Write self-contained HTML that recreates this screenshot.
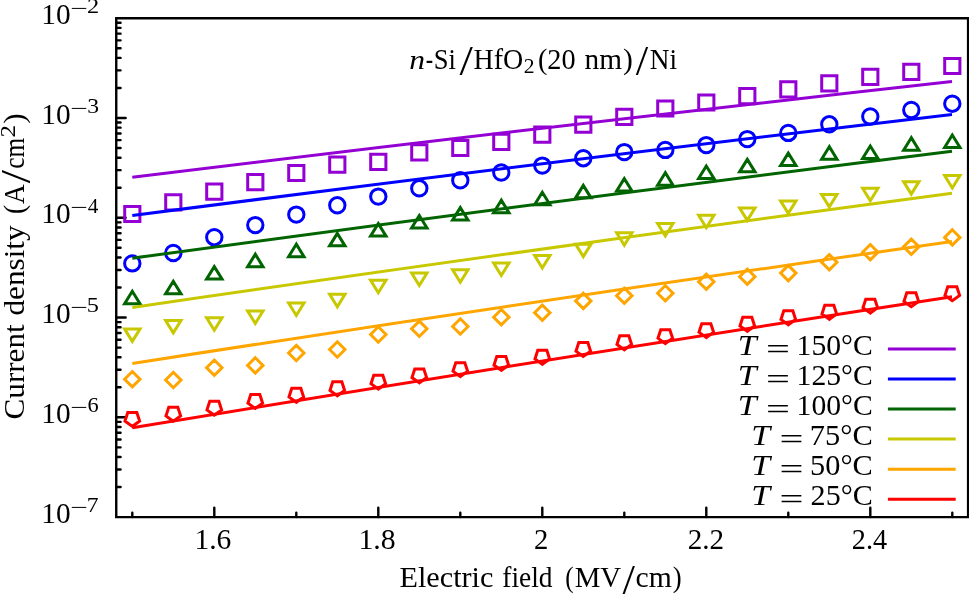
<!DOCTYPE html>
<html lang="en"><head><meta charset="utf-8"><title>Current density vs electric field</title>
<style>html,body{margin:0;padding:0;background:#fff}svg{display:block}</style></head>
<body>
<svg width="969" height="595" viewBox="0 0 969 595">
<rect x="0" y="0" width="969" height="595" fill="#ffffff"/>
<path d="M116.25 87.94h4.3 M116.25 70.37h4.3 M116.25 57.91h4.3 M116.25 48.24h4.3 M116.25 40.34h4.3 M116.25 33.66h4.3 M116.25 27.87h4.3 M116.25 22.77h4.3 M116.25 117.98h9.4 M116.25 187.72h4.3 M116.25 170.15h4.3 M116.25 157.69h4.3 M116.25 148.02h4.3 M116.25 140.12h4.3 M116.25 133.44h4.3 M116.25 127.65h4.3 M116.25 122.55h4.3 M116.25 217.76h9.4 M116.25 287.50h4.3 M116.25 269.93h4.3 M116.25 257.47h4.3 M116.25 247.80h4.3 M116.25 239.90h4.3 M116.25 233.22h4.3 M116.25 227.43h4.3 M116.25 222.33h4.3 M116.25 317.54h9.4 M116.25 387.28h4.3 M116.25 369.71h4.3 M116.25 357.25h4.3 M116.25 347.58h4.3 M116.25 339.68h4.3 M116.25 333.00h4.3 M116.25 327.21h4.3 M116.25 322.11h4.3 M116.25 417.32h9.4 M116.25 487.06h4.3 M116.25 469.49h4.3 M116.25 457.03h4.3 M116.25 447.36h4.3 M116.25 439.46h4.3 M116.25 432.78h4.3 M116.25 426.99h4.3 M116.25 421.89h4.3 M132.30 517.10v-4.3 M214.30 517.10v-9.4 M296.30 517.10v-4.3 M378.30 517.10v-9.4 M460.30 517.10v-4.3 M542.30 517.10v-9.4 M624.30 517.10v-4.3 M706.30 517.10v-9.4 M788.30 517.10v-4.3 M870.30 517.10v-9.4 M952.30 517.10v-4.3" stroke="#000" stroke-width="2.4" stroke-linecap="round" fill="none"/>
<path d="M124.7 206.4h15.2v15.2h-15.2z M165.7 194.7h15.2v15.2h-15.2z M206.7 184.1h15.2v15.2h-15.2z M247.7 174.5h15.2v15.2h-15.2z M288.7 165.4h15.2v15.2h-15.2z M329.7 157.0h15.2v15.2h-15.2z M370.7 154.2h15.2v15.2h-15.2z M411.7 144.7h15.2v15.2h-15.2z M452.7 140.4h15.2v15.2h-15.2z M493.7 134.2h15.2v15.2h-15.2z M534.7 127.1h15.2v15.2h-15.2z M575.7 117.1h15.2v15.2h-15.2z M616.7 109.3h15.2v15.2h-15.2z M657.7 100.9h15.2v15.2h-15.2z M698.7 94.9h15.2v15.2h-15.2z M739.7 88.5h15.2v15.2h-15.2z M780.7 81.7h15.2v15.2h-15.2z M821.7 75.8h15.2v15.2h-15.2z M862.7 69.3h15.2v15.2h-15.2z M903.7 64.3h15.2v15.2h-15.2z M944.7 58.4h15.2v15.2h-15.2z" stroke="#9400d3" stroke-width="3.0" fill="none" stroke-linejoin="miter" stroke-miterlimit="10"/>
<circle cx="132.3" cy="263.4" r="7.7" stroke="#0000ff" stroke-width="3.0" fill="none"/>
<circle cx="173.3" cy="253.0" r="7.7" stroke="#0000ff" stroke-width="3.0" fill="none"/>
<circle cx="214.3" cy="237.2" r="7.7" stroke="#0000ff" stroke-width="3.0" fill="none"/>
<circle cx="255.3" cy="225.1" r="7.7" stroke="#0000ff" stroke-width="3.0" fill="none"/>
<circle cx="296.3" cy="214.6" r="7.7" stroke="#0000ff" stroke-width="3.0" fill="none"/>
<circle cx="337.3" cy="205.3" r="7.7" stroke="#0000ff" stroke-width="3.0" fill="none"/>
<circle cx="378.3" cy="196.6" r="7.7" stroke="#0000ff" stroke-width="3.0" fill="none"/>
<circle cx="419.3" cy="188.3" r="7.7" stroke="#0000ff" stroke-width="3.0" fill="none"/>
<circle cx="460.3" cy="180.3" r="7.7" stroke="#0000ff" stroke-width="3.0" fill="none"/>
<circle cx="501.3" cy="172.5" r="7.7" stroke="#0000ff" stroke-width="3.0" fill="none"/>
<circle cx="542.3" cy="165.6" r="7.7" stroke="#0000ff" stroke-width="3.0" fill="none"/>
<circle cx="583.3" cy="158.2" r="7.7" stroke="#0000ff" stroke-width="3.0" fill="none"/>
<circle cx="624.3" cy="152.1" r="7.7" stroke="#0000ff" stroke-width="3.0" fill="none"/>
<circle cx="665.3" cy="149.9" r="7.7" stroke="#0000ff" stroke-width="3.0" fill="none"/>
<circle cx="706.3" cy="145.1" r="7.7" stroke="#0000ff" stroke-width="3.0" fill="none"/>
<circle cx="747.3" cy="139.1" r="7.7" stroke="#0000ff" stroke-width="3.0" fill="none"/>
<circle cx="788.3" cy="132.9" r="7.7" stroke="#0000ff" stroke-width="3.0" fill="none"/>
<circle cx="829.3" cy="124.3" r="7.7" stroke="#0000ff" stroke-width="3.0" fill="none"/>
<circle cx="870.3" cy="116.5" r="7.7" stroke="#0000ff" stroke-width="3.0" fill="none"/>
<circle cx="911.3" cy="110.0" r="7.7" stroke="#0000ff" stroke-width="3.0" fill="none"/>
<circle cx="952.3" cy="103.7" r="7.7" stroke="#0000ff" stroke-width="3.0" fill="none"/>
<path d="M132.3 291.29L124.6 303.76L140.0 303.76z M173.3 281.29L165.6 293.76L181.0 293.76z M214.3 266.59L206.6 279.06L222.0 279.06z M255.3 254.19L247.6 266.66L263.0 266.66z M296.3 244.19L288.6 256.66L304.0 256.66z M337.3 233.39L329.6 245.86L345.0 245.86z M378.3 223.59L370.6 236.06L386.0 236.06z M419.3 215.49L411.6 227.96L427.0 227.96z M460.3 207.59L452.6 220.06L468.0 220.06z M501.3 200.19L493.6 212.66L509.0 212.66z M542.3 192.29L534.6 204.76L550.0 204.76z M583.3 185.39L575.6 197.86L591.0 197.86z M624.3 178.59L616.6 191.06L632.0 191.06z M665.3 172.69L657.6 185.16L673.0 185.16z M706.3 165.99L698.6 178.46L714.0 178.46z M747.3 159.39L739.6 171.86L755.0 171.86z M788.3 153.09L780.6 165.56L796.0 165.56z M829.3 146.69L821.6 159.16L837.0 159.16z M870.3 145.99L862.6 158.46L878.0 158.46z M911.3 137.69L903.6 150.16L919.0 150.16z M952.3 134.99L944.6 147.46L960.0 147.46z" stroke="#006400" stroke-width="3.0" fill="none" stroke-linejoin="miter" stroke-miterlimit="10"/>
<path d="M132.3 341.41L124.6 328.94L140.0 328.94z M173.3 332.91L165.6 320.44L181.0 320.44z M214.3 330.21L206.6 317.74L222.0 317.74z M255.3 323.51L247.6 311.04L263.0 311.04z M296.3 315.51L288.6 303.04L304.0 303.04z M337.3 306.81L329.6 294.34L345.0 294.34z M378.3 292.71L370.6 280.24L386.0 280.24z M419.3 285.51L411.6 273.04L427.0 273.04z M460.3 282.21L452.6 269.74L468.0 269.74z M501.3 275.51L493.6 263.04L509.0 263.04z M542.3 268.01L534.6 255.54L550.0 255.54z M583.3 256.61L575.6 244.14L591.0 244.14z M624.3 245.21L616.6 232.74L632.0 232.74z M665.3 236.01L657.6 223.54L673.0 223.54z M706.3 227.71L698.6 215.24L714.0 215.24z M747.3 220.41L739.6 207.94L755.0 207.94z M788.3 213.41L780.6 200.94L796.0 200.94z M829.3 206.91L821.6 194.44L837.0 194.44z M870.3 200.71L862.6 188.24L878.0 188.24z M911.3 194.11L903.6 181.64L919.0 181.64z M952.3 188.01L944.6 175.54L960.0 175.54z" stroke="#c8c800" stroke-width="3.0" fill="none" stroke-linejoin="miter" stroke-miterlimit="10"/>
<path d="M132.3 371.5L140.0 379.2L132.3 386.9L124.6 379.2z M173.3 372.3L181.0 380.0L173.3 387.7L165.6 380.0z M214.3 360.0L222.0 367.7L214.3 375.4L206.6 367.7z M255.3 357.7L263.0 365.4L255.3 373.1L247.6 365.4z M296.3 345.3L304.0 353.0L296.3 360.7L288.6 353.0z M337.3 341.8L345.0 349.5L337.3 357.2L329.6 349.5z M378.3 326.8L386.0 334.5L378.3 342.2L370.6 334.5z M419.3 321.1L427.0 328.8L419.3 336.5L411.6 328.8z M460.3 318.8L468.0 326.5L460.3 334.2L452.6 326.5z M501.3 309.5L509.0 317.2L501.3 324.9L493.6 317.2z M542.3 305.0L550.0 312.7L542.3 320.4L534.6 312.7z M583.3 293.2L591.0 300.9L583.3 308.6L575.6 300.9z M624.3 288.0L632.0 295.7L624.3 303.4L616.6 295.7z M665.3 285.5L673.0 293.2L665.3 300.9L657.6 293.2z M706.3 274.0L714.0 281.7L706.3 289.4L698.6 281.7z M747.3 269.0L755.0 276.7L747.3 284.4L739.6 276.7z M788.3 265.4L796.0 273.1L788.3 280.8L780.6 273.1z M829.3 254.5L837.0 262.2L829.3 269.9L821.6 262.2z M870.3 244.5L878.0 252.2L870.3 259.9L862.6 252.2z M911.3 239.1L919.0 246.8L911.3 254.5L903.6 246.8z M952.3 229.7L960.0 237.4L952.3 245.1L944.6 237.4z" stroke="#ffa500" stroke-width="3.0" fill="none" stroke-linejoin="miter" stroke-miterlimit="10"/>
<path d="M132.30 426.40L124.98 421.08L127.77 412.47L136.83 412.47L139.62 421.08z M173.30 421.20L165.98 415.88L168.77 407.27L177.83 407.27L180.62 415.88z M214.30 415.20L206.98 409.88L209.77 401.27L218.83 401.27L221.62 409.88z M255.30 408.50L247.98 403.18L250.77 394.57L259.83 394.57L262.62 403.18z M296.30 402.30L288.98 396.98L291.77 388.37L300.83 388.37L303.62 396.98z M337.30 395.80L329.98 390.48L332.77 381.87L341.83 381.87L344.62 390.48z M378.30 389.10L370.98 383.78L373.77 375.17L382.83 375.17L385.62 383.78z M419.30 382.90L411.98 377.58L414.77 368.97L423.83 368.97L426.62 377.58z M460.30 376.60L452.98 371.28L455.77 362.67L464.83 362.67L467.62 371.28z M501.30 370.40L493.98 365.08L496.77 356.47L505.83 356.47L508.62 365.08z M542.30 364.30L534.98 358.98L537.77 350.37L546.83 350.37L549.62 358.98z M583.30 356.50L575.98 351.18L578.77 342.57L587.83 342.57L590.62 351.18z M624.30 349.80L616.98 344.48L619.77 335.87L628.83 335.87L631.62 344.48z M665.30 343.60L657.98 338.28L660.77 329.67L669.83 329.67L672.62 338.28z M706.30 337.60L698.98 332.28L701.77 323.67L710.83 323.67L713.62 332.28z M747.30 331.30L739.98 325.98L742.77 317.37L751.83 317.37L754.62 325.98z M788.30 324.80L780.98 319.48L783.77 310.87L792.83 310.87L795.62 319.48z M829.30 319.30L821.98 313.98L824.77 305.37L833.83 305.37L836.62 313.98z M870.30 313.10L862.98 307.78L865.77 299.17L874.83 299.17L877.62 307.78z M911.30 306.70L903.98 301.38L906.77 292.77L915.83 292.77L918.62 301.38z M952.30 300.70L944.98 295.38L947.77 286.77L956.83 286.77L959.62 295.38z" stroke="#ff0000" stroke-width="3.0" fill="none" stroke-linejoin="miter" stroke-miterlimit="10"/>
<path d="M132.3 177.3Q542.1 127.05 952.0 81.6" stroke="#9400d3" stroke-width="3.0" fill="none"/>
<path d="M132.3 215.5Q542.1 162.55 952.0 114.4" stroke="#0000ff" stroke-width="3.0" fill="none"/>
<path d="M132.3 258.2Q542.1 202.35 952.0 151.3" stroke="#006400" stroke-width="3.0" fill="none"/>
<path d="M132.3 307.4Q542.1 247.90 952.0 193.2" stroke="#c8c800" stroke-width="3.0" fill="none"/>
<path d="M132.3 363.4Q542.1 300.05 952.0 241.5" stroke="#ffa500" stroke-width="3.0" fill="none"/>
<path d="M132.3 427.8Q542.1 359.90 952.0 296.8" stroke="#ff0000" stroke-width="3.0" fill="none"/>
<path d="M116.25 18.20H968.10V517.10H116.25z" stroke="#000" stroke-width="2.4" fill="none"/>
<path d="M887.9 349.0H955.7" stroke="#9400d3" stroke-width="3.0" fill="none"/>
<path d="M887.9 379.1H955.7" stroke="#0000ff" stroke-width="3.0" fill="none"/>
<path d="M887.9 409.1H955.7" stroke="#006400" stroke-width="3.0" fill="none"/>
<path d="M887.9 439.1H955.7" stroke="#c8c800" stroke-width="3.0" fill="none"/>
<path d="M887.9 469.2H955.7" stroke="#ffa500" stroke-width="3.0" fill="none"/>
<path d="M887.9 499.2H955.7" stroke="#ff0000" stroke-width="3.0" fill="none"/>
<g font-family="'Liberation Serif', serif" font-size="29.5" fill="#000">
<text><tspan x="409.19" y="68.90" font-size="27.5" font-style="italic" textLength="15.81" lengthAdjust="spacingAndGlyphs">n</tspan><tspan x="425.65" y="68.90" textLength="7.35" lengthAdjust="spacingAndGlyphs">-</tspan><tspan x="433.70" y="68.90" textLength="22.14" lengthAdjust="spacingAndGlyphs">Si</tspan><tspan x="459.40" y="75.00" font-size="41.5" textLength="13.34" lengthAdjust="spacingAndGlyphs">/</tspan><tspan x="473.59" y="68.90" textLength="49.73" lengthAdjust="spacingAndGlyphs">HfO</tspan><tspan x="523.65" y="73.30" font-size="20.5" textLength="10.81" lengthAdjust="spacingAndGlyphs">2</tspan><tspan x="537.90" y="68.90" textLength="37.73" lengthAdjust="spacingAndGlyphs">(20</tspan> <tspan x="584.55" y="68.90" textLength="37.49" lengthAdjust="spacingAndGlyphs">nm</tspan><tspan x="623.10" y="68.90" textLength="9.82" lengthAdjust="spacingAndGlyphs">)</tspan><tspan x="635.70" y="75.00" font-size="41.5" textLength="12.43" lengthAdjust="spacingAndGlyphs">/</tspan><tspan x="649.81" y="68.90" textLength="27.25" lengthAdjust="spacingAndGlyphs">Ni</tspan></text>
<text><tspan x="399.53" y="587.40" textLength="93.85" lengthAdjust="spacingAndGlyphs">Electric</tspan> <tspan x="502.27" y="587.40" textLength="50.22" lengthAdjust="spacingAndGlyphs">field</tspan> <tspan x="565.34" y="587.40" textLength="8.37" lengthAdjust="spacingAndGlyphs">(</tspan><tspan x="574.77" y="587.40" textLength="46.41" lengthAdjust="spacingAndGlyphs">MV</tspan><tspan x="622.60" y="593.50" font-size="41.5" textLength="12.43" lengthAdjust="spacingAndGlyphs">/</tspan><tspan x="635.59" y="587.40" textLength="36.25" lengthAdjust="spacingAndGlyphs">cm</tspan><tspan x="672.69" y="587.40" textLength="8.91" lengthAdjust="spacingAndGlyphs">)</tspan></text>
<text transform="rotate(-90)"><tspan x="-419.42" y="23.60" textLength="95.04" lengthAdjust="spacingAndGlyphs">Current</tspan> <tspan x="-315.56" y="23.60" textLength="90.19" lengthAdjust="spacingAndGlyphs">density</tspan> <tspan x="-214.05" y="23.60" textLength="9.00" lengthAdjust="spacingAndGlyphs">(</tspan><tspan x="-204.03" y="23.60" textLength="19.71" lengthAdjust="spacingAndGlyphs">A</tspan><tspan x="-183.20" y="29.70" font-size="41.5" textLength="13.34" lengthAdjust="spacingAndGlyphs">/</tspan><tspan x="-168.76" y="23.60" textLength="30.92" lengthAdjust="spacingAndGlyphs">cm</tspan><tspan x="-137.52" y="14.50" font-size="20.5" textLength="12.55" lengthAdjust="spacingAndGlyphs">2</tspan><tspan x="-123.77" y="23.60" textLength="10.48" lengthAdjust="spacingAndGlyphs">)</tspan></text>
<text><tspan x="41.37" y="23.85" font-size="29" textLength="29.34" lengthAdjust="spacingAndGlyphs">10</tspan><tspan x="70.28" y="14.85" font-size="20.5" textLength="17.53" lengthAdjust="spacingAndGlyphs">−</tspan><tspan x="87.11" y="13.15" font-size="20.5" textLength="12.18" lengthAdjust="spacingAndGlyphs">2</tspan></text>
<text><tspan x="41.37" y="123.63" font-size="29" textLength="29.34" lengthAdjust="spacingAndGlyphs">10</tspan><tspan x="70.28" y="114.63" font-size="20.5" textLength="17.53" lengthAdjust="spacingAndGlyphs">−</tspan><tspan x="87.15" y="112.93" font-size="20.5" textLength="11.82" lengthAdjust="spacingAndGlyphs">3</tspan></text>
<text><tspan x="41.37" y="223.41" font-size="29" textLength="29.34" lengthAdjust="spacingAndGlyphs">10</tspan><tspan x="70.28" y="214.41" font-size="20.5" textLength="17.53" lengthAdjust="spacingAndGlyphs">−</tspan><tspan x="87.78" y="212.71" font-size="20.5" textLength="10.57" lengthAdjust="spacingAndGlyphs">4</tspan></text>
<text><tspan x="41.37" y="323.19" font-size="29" textLength="29.34" lengthAdjust="spacingAndGlyphs">10</tspan><tspan x="70.28" y="314.19" font-size="20.5" textLength="17.53" lengthAdjust="spacingAndGlyphs">−</tspan><tspan x="86.82" y="312.49" font-size="20.5" textLength="12.18" lengthAdjust="spacingAndGlyphs">5</tspan></text>
<text><tspan x="41.37" y="422.97" font-size="29" textLength="29.34" lengthAdjust="spacingAndGlyphs">10</tspan><tspan x="70.28" y="413.97" font-size="20.5" textLength="17.53" lengthAdjust="spacingAndGlyphs">−</tspan><tspan x="87.48" y="412.27" font-size="20.5" textLength="11.16" lengthAdjust="spacingAndGlyphs">6</tspan></text>
<text><tspan x="41.37" y="522.75" font-size="29" textLength="29.34" lengthAdjust="spacingAndGlyphs">10</tspan><tspan x="70.28" y="513.75" font-size="20.5" textLength="17.53" lengthAdjust="spacingAndGlyphs">−</tspan><tspan x="86.86" y="512.05" font-size="20.5" textLength="11.82" lengthAdjust="spacingAndGlyphs">7</tspan></text>
<text><tspan x="194.45" y="549.00" font-size="29" textLength="36.91" lengthAdjust="spacingAndGlyphs">1.6</tspan></text>
<text><tspan x="358.44" y="549.00" font-size="29" textLength="37.19" lengthAdjust="spacingAndGlyphs">1.8</tspan></text>
<text><tspan x="533.97" y="549.00" font-size="29" textLength="14.31" lengthAdjust="spacingAndGlyphs">2</tspan></text>
<text><tspan x="687.75" y="549.00" font-size="29" textLength="36.36" lengthAdjust="spacingAndGlyphs">2.2</tspan></text>
<text><tspan x="851.78" y="549.00" font-size="29" textLength="35.30" lengthAdjust="spacingAndGlyphs">2.4</tspan></text>
<text><tspan x="737.86" y="354.60" font-style="italic" textLength="18.87" lengthAdjust="spacingAndGlyphs">T</tspan> <tspan x="766.04" y="358.50" textLength="23.96" lengthAdjust="spacingAndGlyphs">=</tspan> <tspan x="796.58" y="354.60" textLength="76.20" lengthAdjust="spacingAndGlyphs">150°C</tspan></text>
<text><tspan x="737.86" y="384.63" font-style="italic" textLength="18.87" lengthAdjust="spacingAndGlyphs">T</tspan> <tspan x="766.04" y="388.53" textLength="23.96" lengthAdjust="spacingAndGlyphs">=</tspan> <tspan x="796.58" y="384.63" textLength="76.20" lengthAdjust="spacingAndGlyphs">125°C</tspan></text>
<text><tspan x="737.86" y="414.66" font-style="italic" textLength="18.87" lengthAdjust="spacingAndGlyphs">T</tspan> <tspan x="766.04" y="418.56" textLength="23.96" lengthAdjust="spacingAndGlyphs">=</tspan> <tspan x="796.58" y="414.66" textLength="76.20" lengthAdjust="spacingAndGlyphs">100°C</tspan></text>
<text><tspan x="751.36" y="444.69" font-style="italic" textLength="18.87" lengthAdjust="spacingAndGlyphs">T</tspan> <tspan x="779.54" y="448.59" textLength="23.96" lengthAdjust="spacingAndGlyphs">=</tspan> <tspan x="809.83" y="444.69" textLength="62.99" lengthAdjust="spacingAndGlyphs">75°C</tspan></text>
<text><tspan x="751.36" y="474.72" font-style="italic" textLength="18.87" lengthAdjust="spacingAndGlyphs">T</tspan> <tspan x="779.54" y="478.62" textLength="23.96" lengthAdjust="spacingAndGlyphs">=</tspan> <tspan x="810.10" y="474.72" textLength="62.72" lengthAdjust="spacingAndGlyphs">50°C</tspan></text>
<text><tspan x="751.36" y="504.75" font-style="italic" textLength="18.87" lengthAdjust="spacingAndGlyphs">T</tspan> <tspan x="779.54" y="508.65" textLength="23.96" lengthAdjust="spacingAndGlyphs">=</tspan> <tspan x="810.63" y="504.75" textLength="62.18" lengthAdjust="spacingAndGlyphs">25°C</tspan></text>
</g>
</svg>
</body></html>
